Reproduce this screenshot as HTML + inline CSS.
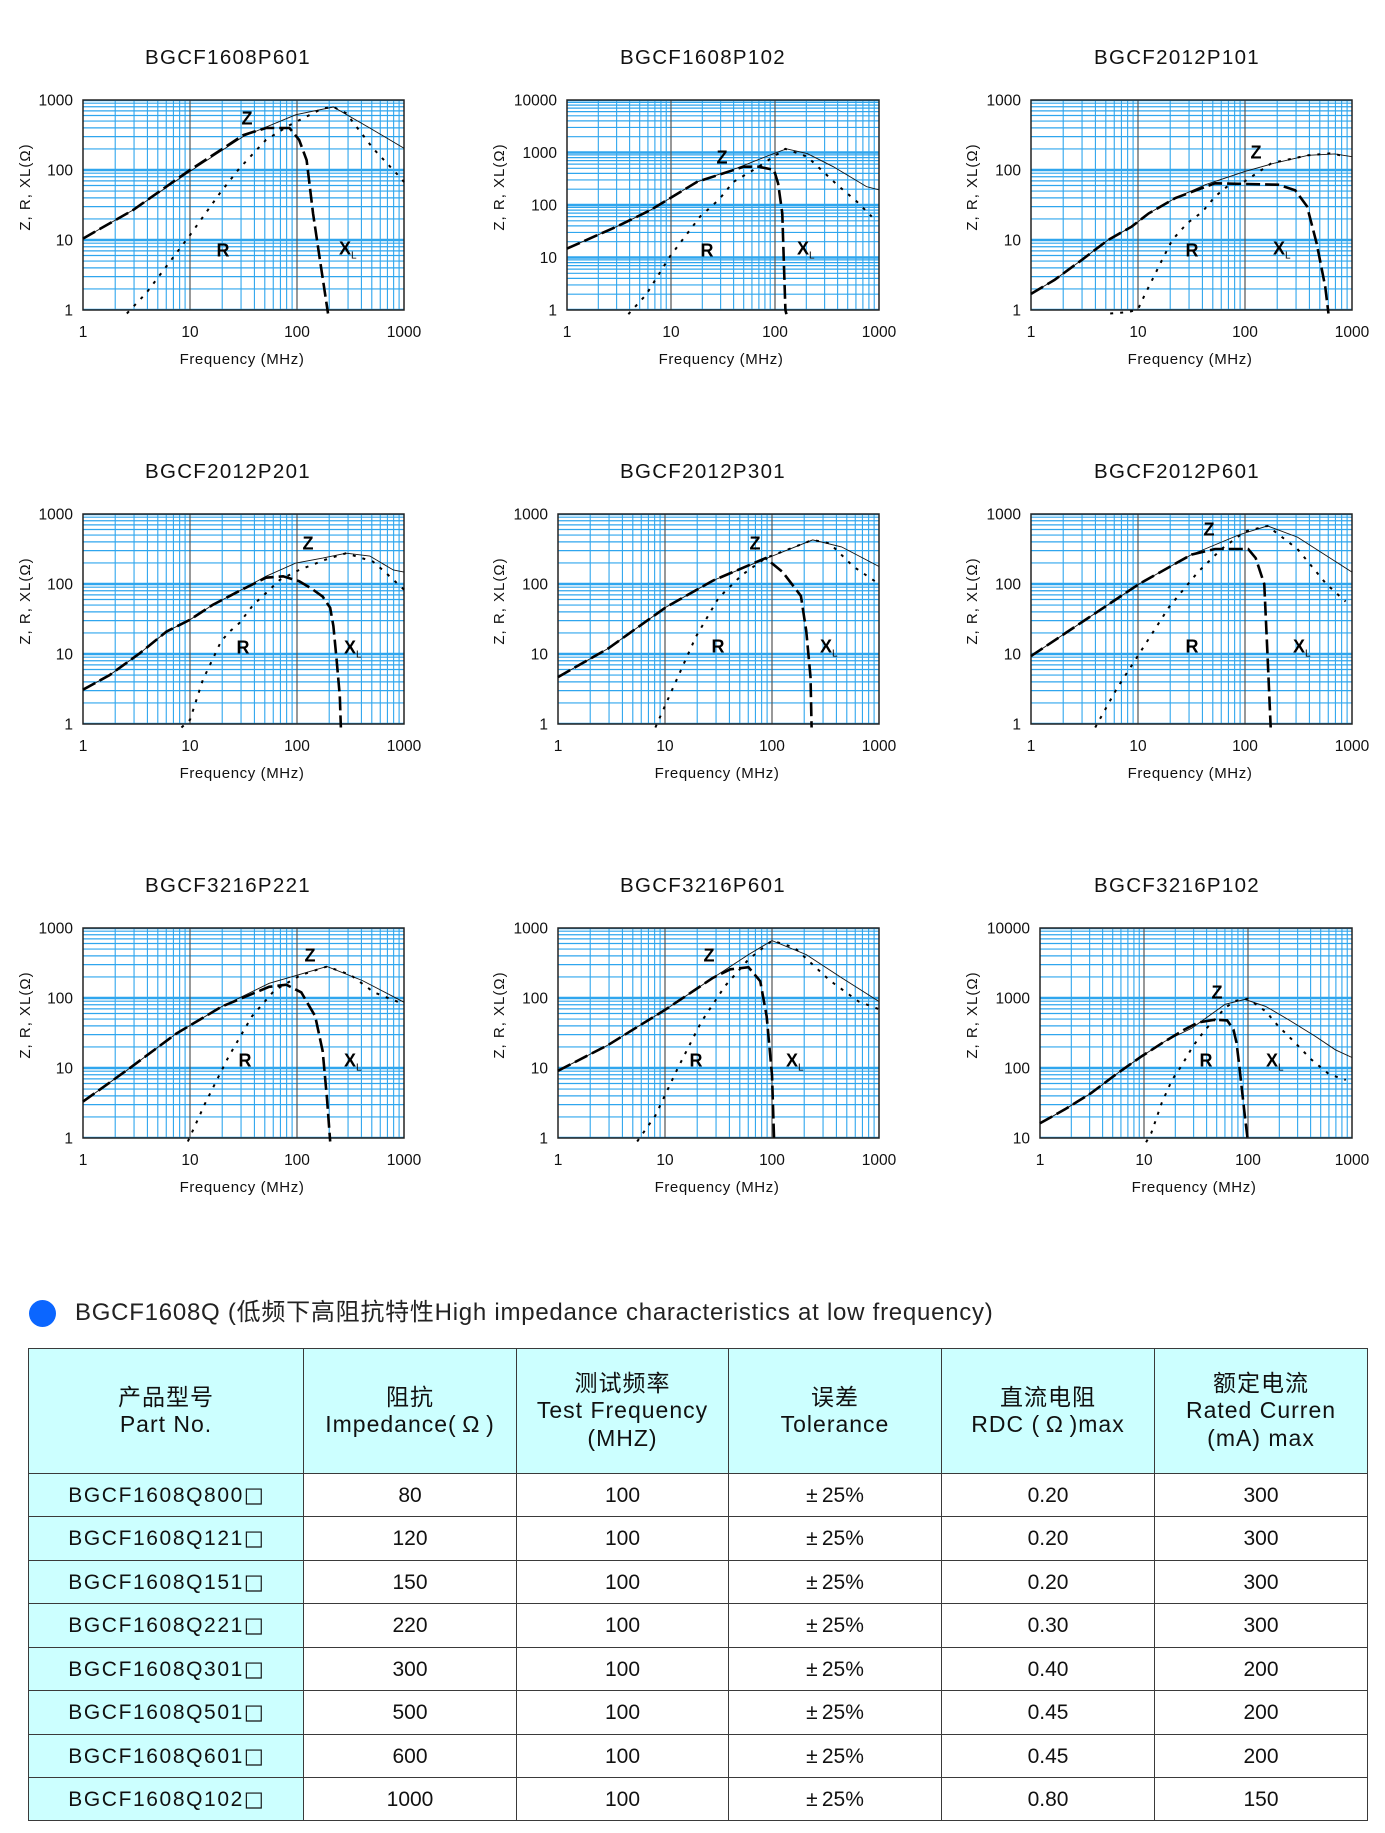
<!DOCTYPE html>
<html>
<head>
<meta charset="utf-8">
<style>
html,body{margin:0;padding:0;}
body{width:1385px;height:1833px;background:#fff;position:relative;overflow:hidden;font-family:"Liberation Sans",Arial,"Noto Sans CJK SC",sans-serif;color:#111;}
svg{position:absolute;left:0;top:0;}
svg text{font-family:"Liberation Sans",Arial,sans-serif;fill:#111;}
.tt{font-size:20.5px;letter-spacing:1.3px;text-anchor:middle;}
.tk{font-size:15.5px;}
.ye{text-anchor:end;}
.xm{text-anchor:middle;}
.fq{font-size:15px;letter-spacing:0.6px;text-anchor:middle;}
.yl{font-size:15px;letter-spacing:1px;text-anchor:middle;}
.lb{font-size:18px;font-weight:bold;fill:#000;}
.lbm{font-size:18px;font-weight:bold;fill:#000;text-anchor:middle;}
.z{fill:none;stroke:#111;stroke-width:0.9px;vector-effect:non-scaling-stroke;}
.x{fill:none;stroke:#000;stroke-width:2.6px;stroke-dasharray:14 5;vector-effect:non-scaling-stroke;}
.r{fill:none;stroke:#000;stroke-width:2px;stroke-dasharray:3 7;vector-effect:non-scaling-stroke;}
.dk{stroke:#555;stroke-width:1.2;}
.fr{fill:none;stroke:#222;stroke-width:1.5;}
.dot{position:absolute;left:28.5px;top:1299.5px;width:27px;height:27px;border-radius:50%;background:#0b66ff;}
.ht{position:absolute;left:75px;top:1300px;font-size:24px;line-height:26px;letter-spacing:0.75px;white-space:nowrap;color:#222;font-family:"Liberation Sans",Arial,"Noto Sans CJK SC",sans-serif;}
table{position:absolute;left:28px;top:1348px;width:1339px;border-collapse:collapse;table-layout:fixed;}
td{border:1.5px solid #3a3a3a;text-align:center;vertical-align:middle;font-size:21px;line-height:27px;padding:0;color:#111;font-family:"Liberation Sans",Arial,"Noto Sans CJK SC",sans-serif;white-space:nowrap;}
tr.h td{background:#ccffff;font-size:23px;letter-spacing:1px;line-height:27.5px;}
td.p{background:#ccffff;letter-spacing:1.6px;}
.bx{font-family:"DejaVu Sans",sans-serif;letter-spacing:0;}
</style>
</head>
<body>
<svg width="1385" height="1300" viewBox="0 0 1385 1300" xmlns="http://www.w3.org/2000/svg">
<defs>
<pattern id="v107" patternUnits="userSpaceOnUse" width="107" height="10"><path d="M32.21 0V10M51.05 0V10M64.42 0V10M74.79 0V10M83.26 0V10M90.43 0V10M96.63 0V10M102.1 0V10" stroke="#2fa6ee" stroke-width="1.1"/></pattern>
<pattern id="v104" patternUnits="userSpaceOnUse" width="104" height="10"><path d="M31.31 0V10M49.62 0V10M62.61 0V10M72.69 0V10M80.93 0V10M87.89 0V10M93.92 0V10M99.24 0V10" stroke="#2fa6ee" stroke-width="1.1"/></pattern>
<pattern id="h70" patternUnits="userSpaceOnUse" width="10" height="70"><path d="M0 0.6H10M0 69.4H10M0 48.93H10M0 36.6H10M0 27.86H10M0 21.07H10M0 15.53H10M0 10.84H10M0 6.78H10M0 3.2H10" stroke="#2fa6ee" stroke-width="1.2"/></pattern>
<pattern id="h52" patternUnits="userSpaceOnUse" width="10" height="52.5"><path d="M0 0.6H10M0 51.9H10M0 36.7H10M0 27.45H10M0 20.89H10M0 15.8H10M0 11.65H10M0 8.13H10M0 5.09H10M0 2.4H10" stroke="#2fa6ee" stroke-width="1.2"/></pattern>
</defs>

<!-- ===== P1 BGCF1608P601 ===== -->
<text class="tt" x="228" y="64">BGCF1608P601</text>
<g transform="translate(83,100)">
<rect width="321" height="210" fill="#fff"/>
<rect width="321" height="210" fill="url(#v107)"/>
<rect width="321" height="210" fill="url(#h70)"/>
<path class="dk" d="M107 0V210M214 0V210"/>
<rect class="fr" width="321" height="210"/>
</g>
<g transform="translate(83,310) scale(107,-70)">
<path class="z" d="M0,1.02 L0.47,1.43 L1,1.98 L1.5,2.48 L1.99,2.79 L2.34,2.9 L2.68,2.6 L3,2.31"/>
<path class="x" d="M0,1.02 L0.47,1.43 L1,2 L1.5,2.5 L1.71,2.6 L1.93,2.6 L2.02,2.43 L2.09,2.14 L2.15,1.38 L2.21,0.76 L2.29,-0.05"/>
<path class="r" d="M0.41,-0.05 L0.59,0.24 L1,1.07 L1.28,1.67 L1.46,2.02 L1.71,2.43 L1.93,2.64 L2.24,2.88 L2.34,2.9 L2.46,2.81 L2.71,2.31 L2.93,1.95 L3,1.83"/>
</g>
<text class="tk ye" x="73" y="105.5">1000</text><text class="tk ye" x="73" y="175.5">100</text><text class="tk ye" x="73" y="245.5">10</text><text class="tk ye" x="73" y="315.5">1</text>
<text class="tk xm" x="83" y="337">1</text><text class="tk xm" x="190" y="337">10</text><text class="tk xm" x="297" y="337">100</text><text class="tk xm" x="404" y="337">1000</text>
<text class="fq" x="242" y="364">Frequency (MHz)</text>
<text class="yl" transform="translate(30,187) rotate(-90)">Z, R, XL(Ω)</text>
<text class="lbm" x="247" y="124.5">Z</text><text class="lbm" x="223" y="256.5">R</text>
<text class="lb" x="339" y="254.5">X<tspan font-size="10" font-weight="normal" dy="4">L</tspan></text>

<!-- ===== P2 BGCF1608P102 ===== -->
<text class="tt" x="703" y="64">BGCF1608P102</text>
<g transform="translate(567,100)">
<rect width="312" height="210" fill="#fff"/>
<rect width="312" height="210" fill="url(#v104)"/>
<rect width="312" height="210" fill="url(#h52)"/>
<path class="dk" d="M104 0V210M208 0V210"/>
<rect class="fr" width="312" height="210"/>
</g>
<g transform="translate(567,310) scale(104,-52.5)">
<path class="z" d="M0,1.17 L0.48,1.59 L0.8,1.9 L1.25,2.44 L1.63,2.7 L1.95,2.95 L2.11,3.07 L2.31,2.98 L2.56,2.73 L2.88,2.35 L3,2.29"/>
<path class="x" d="M0,1.17 L0.48,1.59 L0.8,1.9 L1.25,2.44 L1.7,2.73 L1.84,2.73 L1.99,2.67 L2.03,2.41 L2.07,1.84 L2.1,0 L2.11,-0.08"/>
<path class="r" d="M0.59,-0.08 L0.76,0.29 L0.99,1.02 L1.28,1.78 L1.46,2.1 L1.6,2.44 L1.82,2.7 L2.1,3.07 L2.31,2.92 L2.6,2.38 L2.79,2.06 L2.93,1.78"/>
</g>
<text class="tk ye" x="557" y="105.5">10000</text><text class="tk ye" x="557" y="158">1000</text><text class="tk ye" x="557" y="210.5">100</text><text class="tk ye" x="557" y="263">10</text><text class="tk ye" x="557" y="315.5">1</text>
<text class="tk xm" x="567" y="337">1</text><text class="tk xm" x="671" y="337">10</text><text class="tk xm" x="775" y="337">100</text><text class="tk xm" x="879" y="337">1000</text>
<text class="fq" x="721" y="364">Frequency (MHz)</text>
<text class="yl" transform="translate(504,187) rotate(-90)">Z, R, XL(Ω)</text>
<text class="lbm" x="722" y="163.5">Z</text><text class="lbm" x="707" y="256.5">R</text>
<text class="lb" x="797" y="254.5">X<tspan font-size="10" font-weight="normal" dy="4">L</tspan></text>

<!-- ===== P3 BGCF2012P101 ===== -->
<text class="tt" x="1177" y="64">BGCF2012P101</text>
<g transform="translate(1031,100)">
<rect width="321" height="210" fill="#fff"/>
<rect width="321" height="210" fill="url(#v107)"/>
<rect width="321" height="210" fill="url(#h70)"/>
<path class="dk" d="M107 0V210M214 0V210"/>
<rect class="fr" width="321" height="210"/>
</g>
<g transform="translate(1031,310) scale(107,-70)">
<path class="z" d="M0,0.23 L0.22,0.43 L0.47,0.71 L0.72,1 L0.94,1.19 L1.1,1.38 L1.35,1.6 L1.63,1.79 L2,1.98 L2.28,2.1 L2.59,2.21 L2.84,2.23 L3,2.19"/>
<path class="x" d="M0,0.23 L0.22,0.43 L0.47,0.71 L0.72,1 L0.94,1.19 L1.1,1.38 L1.35,1.6 L1.72,1.81 L2.31,1.79 L2.47,1.71 L2.58,1.48 L2.67,0.95 L2.75,0.33 L2.78,-0.05"/>
<path class="r" d="M0.74,-0.05 L0.91,-0.03 L1,0.01 L1.07,0.24 L1.11,0.36 L1.21,0.67 L1.32,1 L1.46,1.24 L1.6,1.4 L1.72,1.62 L1.83,1.76 L2,1.84 L2.25,2.1 L2.59,2.21 L2.81,2.24 L2.94,2.19"/>
</g>
<text class="tk ye" x="1021" y="105.5">1000</text><text class="tk ye" x="1021" y="175.5">100</text><text class="tk ye" x="1021" y="245.5">10</text><text class="tk ye" x="1021" y="315.5">1</text>
<text class="tk xm" x="1031" y="337">1</text><text class="tk xm" x="1138" y="337">10</text><text class="tk xm" x="1245" y="337">100</text><text class="tk xm" x="1352" y="337">1000</text>
<text class="fq" x="1190" y="364">Frequency (MHz)</text>
<text class="yl" transform="translate(977,187) rotate(-90)">Z, R, XL(Ω)</text>
<text class="lbm" x="1256" y="158.5">Z</text><text class="lbm" x="1192" y="256.5">R</text>
<text class="lb" x="1273" y="254.5">X<tspan font-size="10" font-weight="normal" dy="4">L</tspan></text>

<!-- ===== P4 BGCF2012P201 ===== -->
<text class="tt" x="228" y="478">BGCF2012P201</text>
<g transform="translate(83,514)">
<rect width="321" height="210" fill="#fff"/>
<rect width="321" height="210" fill="url(#v107)"/>
<rect width="321" height="210" fill="url(#h70)"/>
<path class="dk" d="M107 0V210M214 0V210"/>
<rect class="fr" width="321" height="210"/>
</g>
<g transform="translate(83,724) scale(107,-70)">
<path class="z" d="M0,0.49 L0.25,0.7 L0.53,1.01 L0.78,1.32 L1,1.49 L1.21,1.7 L1.46,1.9 L1.71,2.11 L1.99,2.3 L2.24,2.37 L2.46,2.44 L2.68,2.4 L2.9,2.2 L3,2.17"/>
<path class="x" d="M0,0.49 L0.25,0.7 L0.53,1.01 L0.78,1.32 L1,1.49 L1.21,1.7 L1.46,1.9 L1.71,2.09 L1.87,2.11 L2.02,2.04 L2.13,1.94 L2.24,1.82 L2.31,1.66 L2.34,1.4 L2.37,0.92 L2.4,0.4 L2.41,-0.05"/>
<path class="r" d="M0.92,-0.05 L1,0.06 L1.04,0.25 L1.12,0.63 L1.21,0.92 L1.29,1.18 L1.37,1.32 L1.46,1.44 L1.59,1.7 L1.71,1.87 L1.84,2.06 L2.02,2.2 L2.27,2.35 L2.46,2.44 L2.71,2.32 L2.83,2.16 L3,1.92"/>
</g>
<text class="tk ye" x="73" y="519.5">1000</text><text class="tk ye" x="73" y="589.5">100</text><text class="tk ye" x="73" y="659.5">10</text><text class="tk ye" x="73" y="729.5">1</text>
<text class="tk xm" x="83" y="751">1</text><text class="tk xm" x="190" y="751">10</text><text class="tk xm" x="297" y="751">100</text><text class="tk xm" x="404" y="751">1000</text>
<text class="fq" x="242" y="778">Frequency (MHz)</text>
<text class="yl" transform="translate(30,601) rotate(-90)">Z, R, XL(Ω)</text>
<text class="lbm" x="308" y="549.5">Z</text><text class="lbm" x="243" y="653.5">R</text>
<text class="lb" x="344" y="653.5">X<tspan font-size="10" font-weight="normal" dy="4">L</tspan></text>

<!-- ===== P5 BGCF2012P301 ===== -->
<text class="tt" x="703" y="478">BGCF2012P301</text>
<g transform="translate(558,514)">
<rect width="321" height="210" fill="#fff"/>
<rect width="321" height="210" fill="url(#v107)"/>
<rect width="321" height="210" fill="url(#h70)"/>
<path class="dk" d="M107 0V210M214 0V210"/>
<rect class="fr" width="321" height="210"/>
</g>
<g transform="translate(558,724) scale(107,-70)">
<path class="z" d="M0,0.67 L0.47,1.08 L1.01,1.67 L1.45,2.05 L1.89,2.33 L2.38,2.63 L2.65,2.53 L3,2.25"/>
<path class="x" d="M0,0.67 L0.47,1.08 L1.01,1.67 L1.45,2.05 L1.94,2.37 L2.1,2.17 L2.27,1.83 L2.32,1.33 L2.36,0.67 L2.37,-0.05"/>
<path class="r" d="M0.91,-0.05 L1.07,0.5 L1.29,1.25 L1.5,1.8 L1.72,2.13 L1.94,2.37 L2.38,2.63 L2.54,2.58 L2.76,2.25 L3,2"/>
</g>
<text class="tk ye" x="548" y="519.5">1000</text><text class="tk ye" x="548" y="589.5">100</text><text class="tk ye" x="548" y="659.5">10</text><text class="tk ye" x="548" y="729.5">1</text>
<text class="tk xm" x="558" y="751">1</text><text class="tk xm" x="665" y="751">10</text><text class="tk xm" x="772" y="751">100</text><text class="tk xm" x="879" y="751">1000</text>
<text class="fq" x="717" y="778">Frequency (MHz)</text>
<text class="yl" transform="translate(504,601) rotate(-90)">Z, R, XL(Ω)</text>
<text class="lbm" x="755" y="549.5">Z</text><text class="lbm" x="718" y="652.5">R</text>
<text class="lb" x="820" y="652.5">X<tspan font-size="10" font-weight="normal" dy="4">L</tspan></text>

<!-- ===== P6 BGCF2012P601 ===== -->
<text class="tt" x="1177" y="478">BGCF2012P601</text>
<g transform="translate(1031,514)">
<rect width="321" height="210" fill="#fff"/>
<rect width="321" height="210" fill="url(#v107)"/>
<rect width="321" height="210" fill="url(#h70)"/>
<path class="dk" d="M107 0V210M214 0V210"/>
<rect class="fr" width="321" height="210"/>
</g>
<g transform="translate(1031,724) scale(107,-70)">
<path class="z" d="M0,0.97 L0.52,1.5 L1.01,2 L1.5,2.42 L1.94,2.7 L2.21,2.83 L2.49,2.67 L3,2.17"/>
<path class="x" d="M0,0.97 L0.52,1.5 L1.01,2 L1.5,2.42 L1.72,2.5 L2.03,2.5 L2.1,2.37 L2.18,2 L2.21,1 L2.24,-0.05"/>
<path class="r" d="M0.6,-0.05 L0.8,0.5 L1.01,1 L1.29,1.67 L1.56,2.17 L1.78,2.5 L2,2.75 L2.21,2.83 L2.49,2.5 L2.76,2 L2.94,1.75"/>
</g>
<text class="tk ye" x="1021" y="519.5">1000</text><text class="tk ye" x="1021" y="589.5">100</text><text class="tk ye" x="1021" y="659.5">10</text><text class="tk ye" x="1021" y="729.5">1</text>
<text class="tk xm" x="1031" y="751">1</text><text class="tk xm" x="1138" y="751">10</text><text class="tk xm" x="1245" y="751">100</text><text class="tk xm" x="1352" y="751">1000</text>
<text class="fq" x="1190" y="778">Frequency (MHz)</text>
<text class="yl" transform="translate(977,601) rotate(-90)">Z, R, XL(Ω)</text>
<text class="lbm" x="1209" y="535.5">Z</text><text class="lbm" x="1192" y="652.5">R</text>
<text class="lb" x="1293" y="652.5">X<tspan font-size="10" font-weight="normal" dy="4">L</tspan></text>

<!-- ===== P7 BGCF3216P221 ===== -->
<text class="tt" x="228" y="892">BGCF3216P221</text>
<g transform="translate(83,928)">
<rect width="321" height="210" fill="#fff"/>
<rect width="321" height="210" fill="url(#v107)"/>
<rect width="321" height="210" fill="url(#h70)"/>
<path class="dk" d="M107 0V210M214 0V210"/>
<rect class="fr" width="321" height="210"/>
</g>
<g transform="translate(83,1138) scale(107,-70)">
<path class="z" d="M0,0.52 L0.43,0.99 L0.87,1.49 L1.3,1.88 L1.74,2.21 L2.01,2.33 L2.28,2.45 L2.61,2.25 L3,1.94"/>
<path class="x" d="M0,0.52 L0.43,0.99 L0.87,1.49 L1.3,1.88 L1.74,2.16 L1.9,2.19 L2.04,2.08 L2.17,1.74 L2.24,1.24 L2.28,0.57 L2.31,-0.05"/>
<path class="r" d="M0.98,-0.05 L1.14,0.49 L1.36,1.16 L1.58,1.74 L1.79,2.11 L2.04,2.33 L2.28,2.45 L2.5,2.33 L2.72,2.08 L3,1.91"/>
</g>
<text class="tk ye" x="73" y="933.5">1000</text><text class="tk ye" x="73" y="1003.5">100</text><text class="tk ye" x="73" y="1073.5">10</text><text class="tk ye" x="73" y="1143.5">1</text>
<text class="tk xm" x="83" y="1165">1</text><text class="tk xm" x="190" y="1165">10</text><text class="tk xm" x="297" y="1165">100</text><text class="tk xm" x="404" y="1165">1000</text>
<text class="fq" x="242" y="1192">Frequency (MHz)</text>
<text class="yl" transform="translate(30,1015) rotate(-90)">Z, R, XL(Ω)</text>
<text class="lbm" x="310" y="961.5">Z</text><text class="lbm" x="245" y="1066.5">R</text>
<text class="lb" x="344" y="1066.5">X<tspan font-size="10" font-weight="normal" dy="4">L</tspan></text>

<!-- ===== P8 BGCF3216P601 ===== -->
<text class="tt" x="703" y="892">BGCF3216P601</text>
<g transform="translate(558,928)">
<rect width="321" height="210" fill="#fff"/>
<rect width="321" height="210" fill="url(#v107)"/>
<rect width="321" height="210" fill="url(#h70)"/>
<path class="dk" d="M107 0V210M214 0V210"/>
<rect class="fr" width="321" height="210"/>
</g>
<g transform="translate(558,1138) scale(107,-70)">
<path class="z" d="M0,0.96 L0.47,1.33 L1.01,1.84 L1.45,2.29 L1.78,2.62 L2,2.82 L2.32,2.62 L2.65,2.29 L3,1.95"/>
<path class="x" d="M0,0.96 L0.47,1.33 L1.01,1.84 L1.45,2.29 L1.61,2.41 L1.78,2.44 L1.89,2.24 L1.95,1.74 L2,0.9 L2.02,-0.05"/>
<path class="r" d="M0.74,-0.05 L0.91,0.32 L1.12,1 L1.34,1.66 L1.56,2.17 L1.78,2.55 L2,2.82 L2.21,2.72 L2.54,2.25 L2.81,1.95 L3,1.84"/>
</g>
<text class="tk ye" x="548" y="933.5">1000</text><text class="tk ye" x="548" y="1003.5">100</text><text class="tk ye" x="548" y="1073.5">10</text><text class="tk ye" x="548" y="1143.5">1</text>
<text class="tk xm" x="558" y="1165">1</text><text class="tk xm" x="665" y="1165">10</text><text class="tk xm" x="772" y="1165">100</text><text class="tk xm" x="879" y="1165">1000</text>
<text class="fq" x="717" y="1192">Frequency (MHz)</text>
<text class="yl" transform="translate(504,1015) rotate(-90)">Z, R, XL(Ω)</text>
<text class="lbm" x="709" y="961.5">Z</text><text class="lbm" x="696" y="1066.5">R</text>
<text class="lb" x="786" y="1066.5">X<tspan font-size="10" font-weight="normal" dy="4">L</tspan></text>

<!-- ===== P9 BGCF3216P102 ===== -->
<text class="tt" x="1177" y="892">BGCF3216P102</text>
<g transform="translate(1040,928)">
<rect width="312" height="210" fill="#fff"/>
<rect width="312" height="210" fill="url(#v104)"/>
<rect width="312" height="210" fill="url(#h70)"/>
<path class="dk" d="M104 0V210M208 0V210"/>
<rect class="fr" width="312" height="210"/>
</g>
<g transform="translate(1040,1138) scale(104,-70)">
<path class="z" d="M0,0.21 L0.24,0.41 L0.49,0.64 L0.75,0.93 L0.98,1.17 L1.2,1.38 L1.46,1.57 L1.62,1.74 L1.78,1.91 L1.97,1.98 L2.17,1.88 L2.39,1.69 L2.65,1.45 L2.84,1.26 L3,1.15"/>
<path class="x" d="M0,0.21 L0.24,0.41 L0.49,0.64 L0.75,0.93 L0.98,1.17 L1.2,1.38 L1.39,1.55 L1.52,1.65 L1.68,1.69 L1.8,1.68 L1.86,1.55 L1.89,1.36 L1.92,0.98 L1.97,0.31 L2,-0.06"/>
<path class="r" d="M1.02,-0.06 L1.07,0.07 L1.17,0.5 L1.27,0.83 L1.36,1.03 L1.47,1.31 L1.59,1.55 L1.68,1.69 L1.78,1.86 L1.88,1.96 L2,1.99 L2.17,1.81 L2.29,1.6 L2.42,1.41 L2.61,1.12 L2.78,0.91 L2.94,0.83"/>
</g>
<text class="tk ye" x="1030" y="933.5">10000</text><text class="tk ye" x="1030" y="1003.5">1000</text><text class="tk ye" x="1030" y="1073.5">100</text><text class="tk ye" x="1030" y="1143.5">10</text>
<text class="tk xm" x="1040" y="1165">1</text><text class="tk xm" x="1144" y="1165">10</text><text class="tk xm" x="1248" y="1165">100</text><text class="tk xm" x="1352" y="1165">1000</text>
<text class="fq" x="1194" y="1192">Frequency (MHz)</text>
<text class="yl" transform="translate(977,1015) rotate(-90)">Z, R, XL(Ω)</text>
<text class="lbm" x="1217" y="998.5">Z</text><text class="lbm" x="1206" y="1066.5">R</text>
<text class="lb" x="1266" y="1066.5">X<tspan font-size="10" font-weight="normal" dy="4">L</tspan></text>
</svg>

<div class="dot"></div>
<div class="ht">BGCF1608Q (低频下高阻抗特性High impedance characteristics at low frequency)</div>

<table>
<colgroup><col style="width:275px"><col style="width:213px"><col style="width:212px"><col style="width:213px"><col style="width:213px"><col style="width:213px"></colgroup>
<tr class="h" style="height:125px">
<td>产品型号<br>Part No.</td>
<td>阻抗<br>Impedance(&thinsp;Ω&thinsp;)</td>
<td>测试频率<br>Test Frequency<br>(MHZ)</td>
<td>误差<br>Tolerance</td>
<td>直流电阻<br>RDC (&thinsp;Ω&thinsp;)max</td>
<td>额定电流<br>Rated Curren<br>(mA) max</td>
</tr>
<tr style="height:43px"><td class="p">BGCF1608Q800<span class="bx">□</span></td><td>80</td><td>100</td><td>±&thinsp;25%</td><td>0.20</td><td>300</td></tr>
<tr style="height:44px"><td class="p">BGCF1608Q121<span class="bx">□</span></td><td>120</td><td>100</td><td>±&thinsp;25%</td><td>0.20</td><td>300</td></tr>
<tr style="height:43px"><td class="p">BGCF1608Q151<span class="bx">□</span></td><td>150</td><td>100</td><td>±&thinsp;25%</td><td>0.20</td><td>300</td></tr>
<tr style="height:44px"><td class="p">BGCF1608Q221<span class="bx">□</span></td><td>220</td><td>100</td><td>±&thinsp;25%</td><td>0.30</td><td>300</td></tr>
<tr style="height:43px"><td class="p">BGCF1608Q301<span class="bx">□</span></td><td>300</td><td>100</td><td>±&thinsp;25%</td><td>0.40</td><td>200</td></tr>
<tr style="height:44px"><td class="p">BGCF1608Q501<span class="bx">□</span></td><td>500</td><td>100</td><td>±&thinsp;25%</td><td>0.45</td><td>200</td></tr>
<tr style="height:43px"><td class="p">BGCF1608Q601<span class="bx">□</span></td><td>600</td><td>100</td><td>±&thinsp;25%</td><td>0.45</td><td>200</td></tr>
<tr style="height:43px"><td class="p">BGCF1608Q102<span class="bx">□</span></td><td>1000</td><td>100</td><td>±&thinsp;25%</td><td>0.80</td><td>150</td></tr>
</table>
</body>
</html>
